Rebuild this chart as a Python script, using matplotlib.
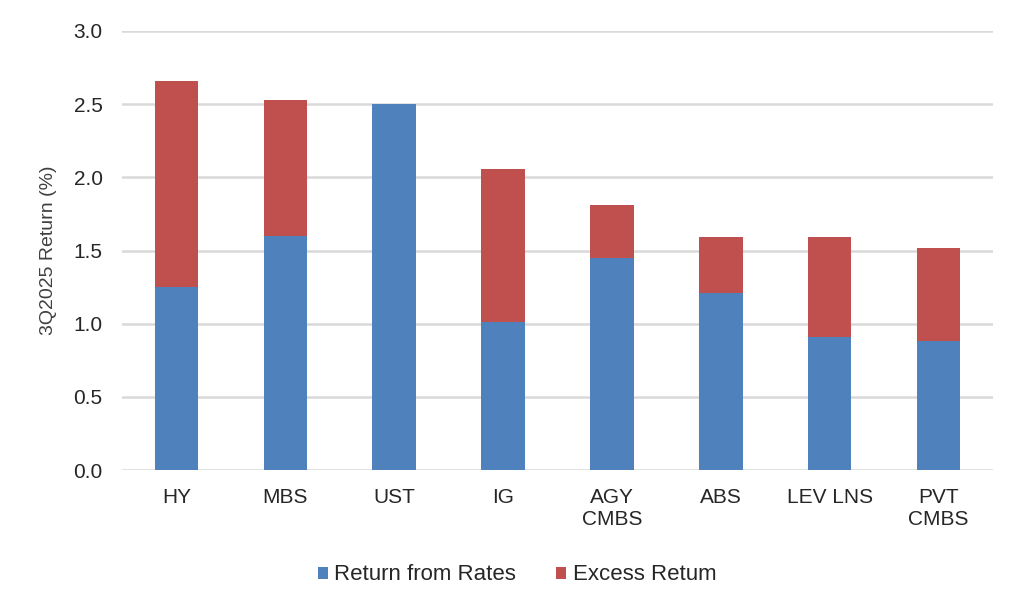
import numpy as np
import matplotlib.pyplot as plt

plt.rcParams['font.family'] = ['Liberation Sans', 'DejaVu Sans']

categories = ['HY', 'MBS', 'UST', 'IG', 'AGY\nCMBS', 'ABS', 'LEV LNS', 'PVT\nCMBS']
rates = [1.25, 1.60, 2.50, 1.01, 1.45, 1.21, 0.91, 0.88]
excess = [1.41, 0.93, 0.00, 1.05, 0.36, 0.38, 0.68, 0.64]

blue = '#4f81bd'
red = '#c0504d'
grid = '#d9d9d9'
txt = '#262626'
fs = 15

fig = plt.figure(figsize=(10.24, 6.13), dpi=100)
ax = fig.add_axes([122/1024, 1 - 470/613, (993-122)/1024, (470-31)/613])

x = np.arange(len(categories))
ax.bar(x, rates, width=0.4, color=blue, label='Return from Rates', zorder=3)
ax.bar(x, excess, width=0.4, bottom=rates, color=red, label='Excess Retum', zorder=3)

ax.set_xlim(-0.5, len(categories) - 0.5)
ax.set_ylim(0, 3.0)
ticks = np.arange(0, 3.01, 0.5)
ax.set_yticks(ticks)
ax.set_yticklabels([f'{v:.1f}' for v in ticks])
ax.yaxis.grid(True, color=grid, linewidth=1.8, zorder=0)
for s in ax.spines.values():
    s.set_visible(False)
ax.tick_params(axis='both', length=0, labelsize=fs, colors=txt)
ax.tick_params(axis='y', pad=14)
ax.tick_params(axis='x', pad=13)
ax.set_xticks(x)
ax.set_xticklabels(categories, linespacing=1.2)
ax.set_ylabel('3Q2025 Return (%)', fontsize=14, color='#404040', labelpad=12)

fig.legend(loc='center', bbox_to_anchor=(0.505, 1 - 575/613), ncol=2, frameon=False,
           fontsize=16, handlelength=0.45, handleheight=0.45, handletextpad=0.3,
           columnspacing=1.8, labelcolor=txt)

fig.savefig('out.png', dpi=100)
